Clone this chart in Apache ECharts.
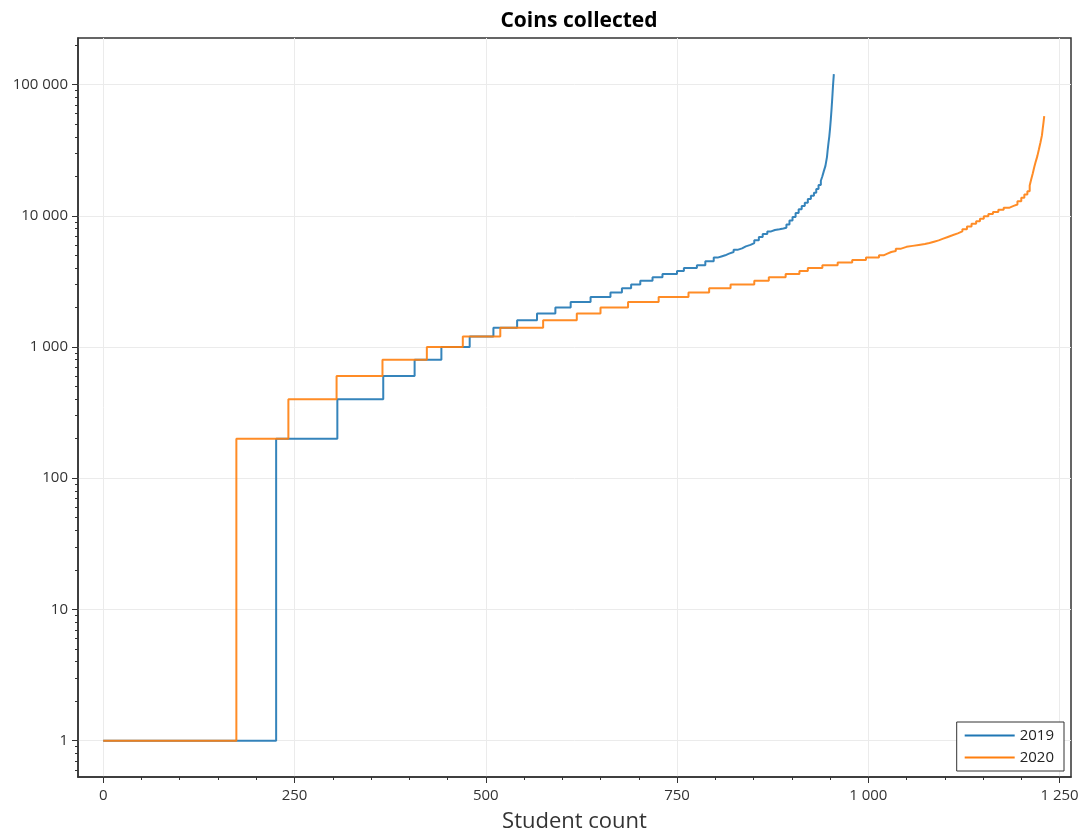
<!DOCTYPE html>
<html><head><meta charset="utf-8">
<script src="https://cdn.jsdelivr.net/npm/echarts@6/dist/echarts.min.js"></script>
<style>html,body{margin:0;padding:0;background:#fff}#c{width:1086px;height:835px}</style>
</head><body><div id="c"></div>
<script>
const titleText = 'Coins collected';
const xAxisName = 'Student count';
const seriesNames = ['2019', '2020'];

// student index where each coin level starts (sorted students), 2019
const x2019 = [0, 226, 306, 366, 407, 442, 479, 510, 541, 567, 591, 611, 637, 663, 678, 690, 702, 718, 731, 750, 759, 776, 787, 798, 803, 808, 813, 818, 824, 829, 835, 840, 846, 851, 857, 862, 868, 873, 878, 884, 889, 893, 897, 901, 905, 909, 913, 917, 921, 925, 929, 932, 935, 938, 940, 942, 944, 946, 947, 948, 949, 950, 951, 952, 953, 954, 955];
const coins2019 = [1, 200, 400, 600, 800, 1000, 1200, 1400, 1600, 1800, 2000, 2200, 2400, 2600, 2800, 3000, 3200, 3400, 3600, 3800, 4000, 4200, 4500, 4800, 4900, 5000, 5150, 5300, 5500, 5650, 5850, 6000, 6200, 6500, 6900, 7250, 7600, 7800, 7900, 8000, 8100, 8600, 9200, 9800, 10500, 11200, 11900, 12600, 13400, 14200, 15000, 16000, 17200, 18500, 20000, 22000, 24000, 28000, 32000, 36000, 40000, 46000, 54000, 65000, 80000, 100000, 120000];

// 2020
const x2020 = [0, 174, 242, 305, 365, 423, 470, 519, 575, 619, 650, 686, 726, 765, 792, 820, 851, 870, 892, 910, 921, 940, 960, 979, 997, 1014, 1020, 1025, 1030, 1036, 1042, 1050, 1058, 1066, 1074, 1080, 1086, 1092, 1098, 1104, 1110, 1117, 1123, 1129, 1135, 1141, 1146, 1151, 1157, 1163, 1170, 1177, 1184, 1190, 1195, 1200, 1204, 1208, 1211, 1213, 1215, 1217, 1219, 1221, 1223, 1225, 1227, 1228, 1229, 1230];
const coins2020 = [1, 200, 400, 600, 800, 1000, 1200, 1400, 1600, 1800, 2000, 2200, 2400, 2600, 2800, 3000, 3200, 3400, 3600, 3800, 4000, 4200, 4400, 4600, 4800, 5000, 5150, 5300, 5400, 5600, 5800, 5900, 6000, 6100, 6200, 6350, 6500, 6700, 6900, 7100, 7350, 7600, 7900, 8300, 8700, 9100, 9500, 9900, 10300, 10700, 11100, 11500, 11900, 12200, 12900, 13700, 14500, 15400, 17000, 19000, 21000, 23500, 26000, 28500, 32000, 36000, 41000, 46000, 51000, 57500];

const xTicks = [0, 250, 500, 750, 1000, 1250];
const xMinorTicks = [50, 100, 150, 200, 300, 350, 400, 450, 550, 600, 650, 700, 800, 850, 900, 950, 1050, 1100, 1150, 1200];
const yTicks = [1, 10, 100, 1000, 10000, 100000];

const FONT = '"Open Sans", "Noto Sans", sans-serif';
const xMin = -33, xMax = 1265;
const yMin = -0.277, yMax = 5.355;

function fmt(n) { return String(Math.round(n)).replace(/\B(?=(\d{3})+(?!\d))/g, ' '); }

const yMajor = yTicks.map(v => Math.log10(v));
const yMinor = [];
for (let d = -1; d <= 5; d++) for (let k = 2; k <= 9; k++) {
  const v = d + Math.log10(k);
  if (v > yMin && v < yMax) yMinor.push(v);
}

const d2019 = x2019.map((x, i) => [x, Math.log10(coins2019[i])]);
const d2020 = x2020.map((x, i) => [x, Math.log10(coins2020[i])]);

const chart = echarts.init(document.getElementById('c'), null, {renderer: 'canvas'});
chart.setOption({
  animation: false,
  backgroundColor: '#fff',
  title: {
    text: titleText, left: 574, top: 6, textAlign: 'center',
    textStyle: {fontFamily: FONT, fontWeight: 'bold', fontSize: 21, color: '#000'}
  },
  grid: {left: 78, right: 15, top: 38, bottom: 58, show: true, borderColor: '#333', borderWidth: 1.5, backgroundColor: 'transparent', containLabel: false, outerBoundsMode: 'none'},
  legend: {
    data: seriesNames, orient: 'vertical', right: 22, bottom: 64,
    backgroundColor: '#fff', borderColor: '#333', borderWidth: 1,
    padding: [6, 10, 6, 8], itemGap: 7, itemWidth: 50, itemHeight: 2, icon: 'rect',
    textStyle: {fontFamily: FONT, fontSize: 15, color: '#222'}
  },
  xAxis: [{
    type: 'value', min: xMin, max: xMax,
    name: xAxisName, nameLocation: 'middle', nameGap: 34,
    nameTextStyle: {fontFamily: FONT, fontSize: 22, color: '#333'},
    axisLine: {show: true, onZero: false, lineStyle: {color: '#333', width: 1.5}},
    axisTick: {show: true, length: 6, customValues: xTicks, lineStyle: {color: '#333'}},
    axisLabel: {customValues: xTicks, formatter: v => fmt(v), fontFamily: FONT, fontSize: 15, color: '#333', margin: 11},
    splitLine: {show: true, lineStyle: {color: '#ebebeb', width: 1}}
  }, {
    type: 'value', min: xMin, max: xMax, position: 'bottom',
    axisLine: {show: false, onZero: false},
    axisTick: {show: true, length: 3, customValues: xMinorTicks, lineStyle: {color: '#333'}},
    axisLabel: {show: false},
    splitLine: {show: false}
  }],
  yAxis: [{
    type: 'value', min: yMin, max: yMax, position: 'left',
    axisLine: {show: true, onZero: false, lineStyle: {color: '#333', width: 1.5}},
    axisTick: {show: true, length: 6, customValues: yMajor, lineStyle: {color: '#333'}},
    axisLabel: {customValues: yMajor, formatter: v => fmt(Math.pow(10, v)), fontFamily: FONT, fontSize: 15, color: '#333', margin: 10},
    splitLine: {show: true, lineStyle: {color: '#ebebeb', width: 1}}
  }, {
    type: 'value', min: yMin, max: yMax, position: 'left',
    axisLine: {show: false, onZero: false},
    axisTick: {show: true, length: 3, customValues: yMinor, lineStyle: {color: '#333'}},
    axisLabel: {show: false},
    splitLine: {show: false}
  }],
  series: [{
    name: seriesNames[0], type: 'line', step: 'end', data: d2019,
    xAxisIndex: 0, yAxisIndex: 0, showSymbol: false, symbol: 'none',
    color: '#1f77b4', lineStyle: {color: '#1f77b4', width: 2, opacity: 0.9}
  }, {
    name: seriesNames[1], type: 'line', step: 'end', data: d2020,
    xAxisIndex: 0, yAxisIndex: 0, showSymbol: false, symbol: 'none',
    color: '#ff7f0e', lineStyle: {color: '#ff7f0e', width: 2, opacity: 0.9}
  }]
});
</script></body></html>
